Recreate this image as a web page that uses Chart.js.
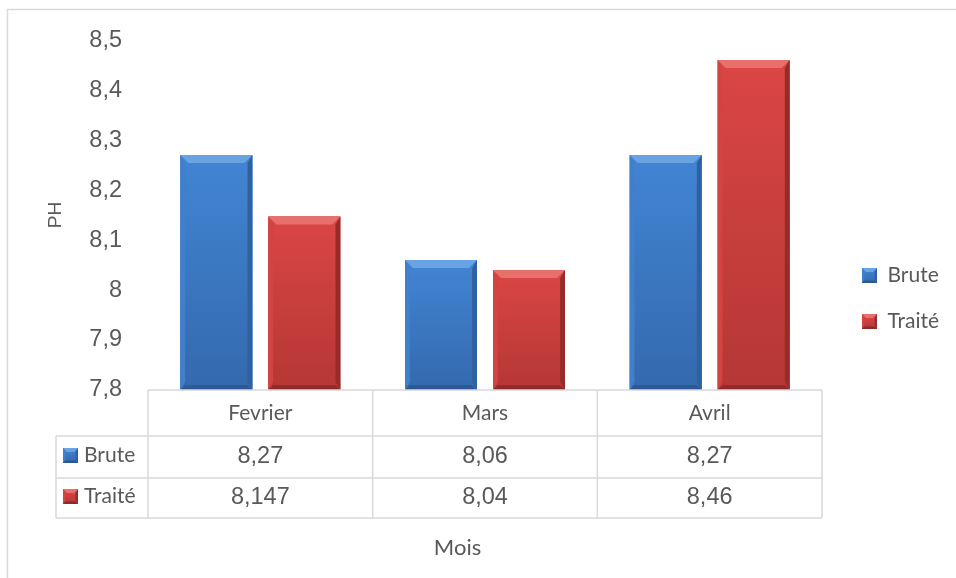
<!DOCTYPE html>
<html>
<head>
<meta charset="utf-8">
<script src="https://cdn.jsdelivr.net/npm/chart.js@4.4.1/dist/chart.umd.min.js"></script>
<style>
html,body{margin:0;padding:0;background:#ffffff;}
#wrap{width:956px;height:578px;position:relative;overflow:hidden;}
canvas{display:block;}
</style>
</head>
<body>
<div id="wrap"><canvas id="c" width="956" height="578"></canvas></div>
<script>
// ---- data ----
const categories = ['Fevrier', 'Mars', 'Avril'];
const seriesNames = ['Brute', 'Traité'];
const bruteValues = [8.27, 8.06, 8.27];
const traiteValues = [8.147, 8.04, 8.46];
const yTickValues = [7.8, 7.9, 8, 8.1, 8.2, 8.3, 8.4, 8.5];
const yTitle = 'PH';
const xTitle = 'Mois';

// ---- styles ----
const palettes = [
  {solid: '#3b78c4', top: '#4285d4', bottom: '#3469ad', light: '#6aa3e3', leftEdge: '#3f7fcc', rightEdge: '#2f609f', bottomEdge: '#2c5994'},
  {solid: '#c93d3b', top: '#da4645', bottom: '#b53735', light: '#e8706c', leftEdge: '#d24442', rightEdge: '#962c2a', bottomEdge: '#8e2a28'}
];
const textColor = '#595959';
const lineColor = '#d9d9d9';
const legendFontSize = 21;
const legendPad = 25;

let padL = 0;

function fmt(v) {
  return String(v).replace('.', ',');
}
function fmtTick(v) {
  let s = Number(v).toFixed(1);
  if (s.endsWith('.0')) s = s.slice(0, -2);
  return s.replace('.', ',');
}

function bevelRect(ctx, l, t, w, h, pal, e) {
  const r = l + w, b = t + h;
  const g = ctx.createLinearGradient(0, t, 0, b);
  g.addColorStop(0, pal.top);
  g.addColorStop(1, pal.bottom);
  ctx.fillStyle = g;
  ctx.fillRect(l, t, w, h);
  const es = Math.min(e, w / 2, h / 2);
  ctx.fillStyle = pal.light;
  ctx.beginPath();
  ctx.moveTo(l, t); ctx.lineTo(r, t); ctx.lineTo(r - es, t + es); ctx.lineTo(l + es, t + es); ctx.closePath();
  ctx.fill();
  ctx.fillStyle = pal.leftEdge;
  ctx.beginPath();
  ctx.moveTo(l, t); ctx.lineTo(l + es * 0.6, t + es); ctx.lineTo(l + es * 0.6, b - es); ctx.lineTo(l, b); ctx.closePath();
  ctx.fill();
  ctx.fillStyle = pal.rightEdge;
  ctx.beginPath();
  ctx.moveTo(r, t); ctx.lineTo(r, b); ctx.lineTo(r - es * 0.6, b - es); ctx.lineTo(r - es * 0.6, t + es); ctx.closePath();
  ctx.fill();
  ctx.fillStyle = pal.bottomEdge;
  ctx.beginPath();
  ctx.moveTo(l, b); ctx.lineTo(l + es * 0.6, b - es * 0.6); ctx.lineTo(r - es * 0.6, b - es * 0.6); ctx.lineTo(r, b); ctx.closePath();
  ctx.fill();
}

function drawText(ctx, text, x, y, font, align) {
  ctx.save();
  ctx.font = font;
  ctx.fillStyle = textColor;
  ctx.textAlign = align || 'center';
  ctx.textBaseline = 'middle';
  ctx.fillText(text, x, y);
  ctx.restore();
}

const framePlugin = {
  id: 'frame',
  beforeDraw(chart) {
    const ctx = chart.ctx;
    ctx.save();
    ctx.fillStyle = '#ffffff';
    ctx.fillRect(0, 0, chart.width, chart.height);
    ctx.strokeStyle = lineColor;
    ctx.lineWidth = 1.5;
    ctx.beginPath();
    ctx.moveTo(7.5, chart.height);
    ctx.lineTo(7.5, 9.5);
    ctx.lineTo(chart.width, 9.5);
    ctx.stroke();
    ctx.restore();
  }
};

const bevelPlugin = {
  id: 'bevel',
  afterDatasetsDraw(chart) {
    const ctx = chart.ctx;
    const area = chart.chartArea;
    ctx.save();
    chart.data.datasets.forEach((ds, di) => {
      const meta = chart.getDatasetMeta(di);
      meta.data.forEach(bar => {
        const p = bar.getProps(['x', 'y', 'base', 'width'], true);
        const l = p.x - p.width / 2;
        const top = Math.max(p.y, area.top);
        const base = Math.min(p.base, area.bottom);
        bevelRect(ctx, l, top, p.width, base - top, palettes[di], 8);
      });
    });
    ctx.restore();
  }
};

const tablePlugin = {
  id: 'dataTable',
  afterDraw(chart) {
    const ctx = chart.ctx;
    const area = chart.chartArea;
    const xs = chart.scales.x;
    const n = categories.length;
    const colW = (area.right - area.left) / n;
    const rows = [area.bottom, area.bottom + 46, area.bottom + 88, area.bottom + 128];
    const keyLeft = 56;
    const series = [bruteValues, traiteValues];
    ctx.save();
    ctx.strokeStyle = lineColor;
    ctx.lineWidth = 1.5;
    ctx.beginPath();
    ctx.moveTo(area.left, rows[0]); ctx.lineTo(area.right, rows[0]);
    for (let k = 1; k < rows.length; k++) {
      ctx.moveTo(keyLeft, rows[k]); ctx.lineTo(area.right, rows[k]);
    }
    ctx.moveTo(keyLeft, rows[1]); ctx.lineTo(keyLeft, rows[3]);
    for (let i = 0; i <= n; i++) {
      const xb = xs.getPixelForValue(0) - colW / 2 + i * colW;
      ctx.moveTo(xb, rows[0]); ctx.lineTo(xb, rows[3]);
    }
    ctx.stroke();
    categories.forEach((c, i) => {
      drawText(ctx, c, xs.getPixelForValue(i), (rows[0] + rows[1]) / 2, '21px Lato');
    });
    series.forEach((vals, si) => {
      const cy = (rows[si + 1] + rows[si + 2]) / 2;
      vals.forEach((v, i) => {
        drawText(ctx, fmt(v), xs.getPixelForValue(i), cy, '23.5px "Liberation Sans"');
      });
      bevelRect(ctx, 63, cy - 9, 15, 15, palettes[si], 4);
      drawText(ctx, seriesNames[si], 84, cy - 2, '21px Lato', 'left');
    });
    const lg = chart.legend;
    if (lg && lg.legendHitBoxes) {
      lg.legendHitBoxes.forEach((hb, i) => {
        bevelRect(ctx, hb.left, hb.top + (legendFontSize - 15) / 2, 15, 15, palettes[i], 4);
      });
    }
    ctx.restore();
  }
};

const chart = new Chart(document.getElementById('c'), {
  type: 'bar',
  data: {
    labels: categories,
    datasets: [
      {label: seriesNames[0], data: bruteValues, backgroundColor: palettes[0].solid, borderWidth: 0,
       categoryPercentage: 0.783, barPercentage: 0.818},
      {label: seriesNames[1], data: traiteValues, backgroundColor: palettes[1].solid, borderWidth: 0,
       categoryPercentage: 0.783, barPercentage: 0.818}
    ]
  },
  options: {
    responsive: false,
    animation: false,
    devicePixelRatio: 1,
    layout: {padding: {left: 0, right: 0, top: 38, bottom: 20}},
    scales: {
      x: {
        display: true,
        grid: {display: false, drawTicks: false},
        border: {display: false},
        ticks: {display: false},
        afterFit(s) { s.height = 128; }
      },
      y: {
        position: 'left',
        min: yTickValues[0],
        max: yTickValues[yTickValues.length - 1],
        afterBuildTicks(s) { s.ticks = yTickValues.map(v => ({value: v})); },
        grid: {display: false, drawTicks: false},
        border: {display: false},
        ticks: {
          padding: 26,
          color: textColor,
          font: {family: '"Liberation Sans", Arial, sans-serif', size: 23.5},
          callback: (v) => fmtTick(v)
        },
        title: {
          display: true,
          text: yTitle,
          color: textColor,
          font: {family: '"Liberation Sans", Arial, sans-serif', size: 19, lineHeight: 1.2},
          padding: {top: 44, bottom: 0}
        },
        afterFit(s) { s.width = 148 - padL; }
      },
      spacer: {
        type: 'linear',
        position: 'right',
        display: true,
        grid: {display: false, drawTicks: false},
        border: {display: false},
        ticks: {display: false},
        afterFit(s) { s.width = 15; }
      }
    },
    plugins: {
      legend: {
        position: 'right',
        align: 'center',
        labels: {
          boxWidth: 15,
          boxHeight: 15,
          padding: legendPad,
          color: textColor,
          font: {family: 'Lato', size: legendFontSize},
          generateLabels(ch) {
            return ch.data.datasets.map((ds, i) => ({
              text: ds.label, fillStyle: palettes[i].solid, strokeStyle: palettes[i].solid,
              lineWidth: 0, hidden: false, datasetIndex: i, fontColor: textColor
            }));
          }
        }
      },
      title: {
        display: true,
        position: 'bottom',
        text: xTitle,
        color: textColor,
        font: {family: 'Lato', size: 22, weight: 'normal', lineHeight: 1},
        padding: {top: 19, bottom: 0}
      },
      tooltip: {enabled: false}
    }
  },
  plugins: [framePlugin, bevelPlugin, tablePlugin]
});

// Place the legend so its items start at x = 862 and centre the x title at 457.5
const legendW = chart.legend.width;
const padR = 956 - 837 - legendW;
padL = padR - 41;
chart.options.layout.padding = {left: padL, right: padR, top: 38, bottom: 19};
chart.options.scales.y.title.padding = {top: 44 - padL, bottom: 0};
chart.update();
</script>
</body>
</html>
